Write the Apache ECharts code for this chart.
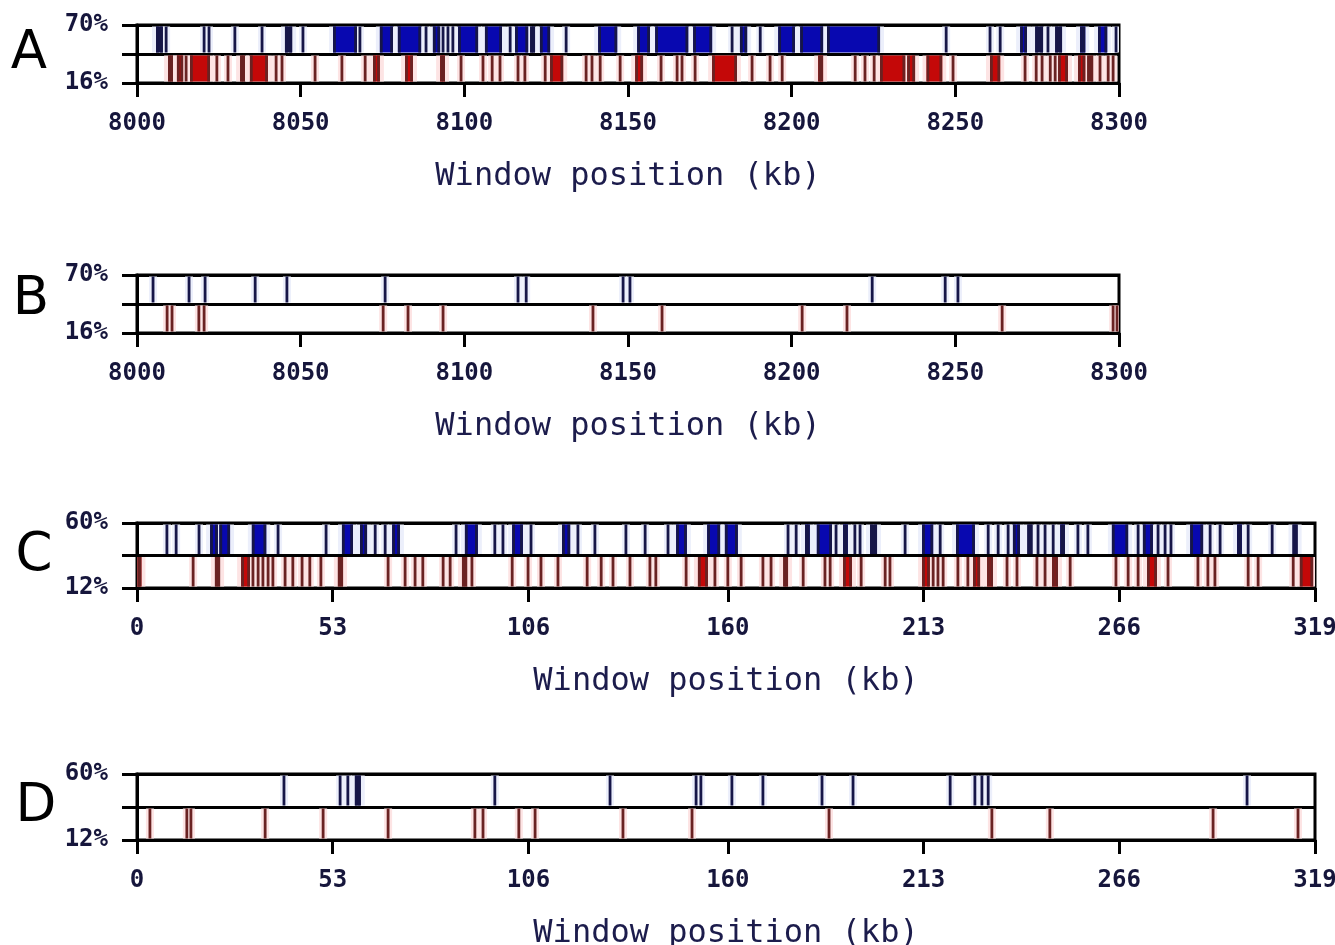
<!DOCTYPE html>
<html>
<head>
<meta charset="utf-8">
<script src="https://cdn.jsdelivr.net/npm/echarts@6/dist/echarts.min.js"></script>
<style>
html, body { margin: 0; padding: 0; background: #fff; }
#main { width: 1335px; height: 945px; }
</style>
</head>
<body>
<div id="main"></div>
<script>
// hit windows, kb. a plain number is a single window (thin line),
// [start, end, level] is a run of windows: level 0 pale, 1 strong, 2 dark
var aBlue = [[8005.8, 8007.9, 2], 8008.9, 8020.5, 8022.0, 8029.9, 8038.2, [8045.2, 8047.4, 2], 8050.7,
  [8059.9, 8067.2, 1], 8068.1, [8074.2, 8078.2, 1], [8079.7, 8086.8, 1], 8088.3, [8090.4, 8092.6, 1],
  8093.5, 8095.0, 8096.5, [8098.1, 8104.2, 1], [8106.3, 8111.5, 1], 8114.0, [8115.5, 8119.5, 1],
  [8120.1, 8121.6, 2], [8123.1, 8126.2, 1], 8131.1, [8140.9, 8146.7, 1], [8152.8, 8156.7, 1],
  [8158.3, 8168.4, 1], [8169.9, 8175.7, 1], 8181.8, [8184.2, 8186.4, 1], 8190.4, [8195.9, 8201.0, 1],
  [8202.6, 8209.6, 1], [8210.8, 8227.0, 1], 8247.2, 8260.6, 8263.7, [8269.8, 8271.9, 1],
  [8274.4, 8276.8, 2], 8278.3, [8280.5, 8282.6, 2], [8288.1, 8289.7, 1], [8293.6, 8296.4, 1], 8299.1];
var aRed = [[8009.5, 8011.0, 2], [8012.2, 8014.1, 1], 8015.0, [8016.2, 8022.3, 1], 8024.4, 8027.8,
  [8031.5, 8033.0, 2], [8034.5, 8040.0, 1], 8042.5, 8044.3, 8054.4, 8062.6, 8069.7, [8072.1, 8074.2, 1],
  [8081.9, 8084.3, 1], [8092.6, 8094.1, 1], 8099.0, 8105.7, 8108.5, 8110.9, 8116.4, 8118.5, 8124.7,
  [8126.2, 8130.2, 1], 8137.2, 8139.0, 8141.5, 8147.6, [8152.2, 8154.6, 1], 8160.1, 8165.0, 8166.5,
  8170.5, [8175.7, 8183.3, 1], 8187.9, 8193.4, 8197.1, [8208.1, 8209.6, 1], 8219.4, 8222.4, 8225.2,
  [8227.0, 8234.7, 1], [8235.3, 8237.7, 1], [8241.2, 8246.0, 1], 8249.3, [8260.6, 8263.7, 1], 8271.3,
  8274.7, 8276.5, 8279.0, 8280.5, [8281.4, 8284.4, 1], [8287.5, 8289.7, 1], [8290.3, 8292.1, 2],
  8294.2, 8296.7, 8298.2];

var bBlue = [8004.9, 8015.9, 8020.8, 8036.1, 8045.8, 8075.8, 8116.4, 8118.9, 8148.5, 8150.6,
  8224.6, 8246.9, 8250.8];
var bRed = [8009.2, 8010.7, 8018.9, 8020.5, 8075.2, 8082.8, 8093.5, 8139.3, 8160.4, 8203.2,
  8216.9, 8264.3, 8298.2, 8299.4];

var cBlue = [8.1, 10.6, 16.8, [19.8, 21.9, 1], [22.3, 25.2, 1], [31.1, 35.0, 1], 38.2, 51.2,
  [55.5, 58.5, 1], [60.4, 62.3, 1], 64.5, 67.2, [69.1, 71.2, 1], 86.4, [88.8, 92.3, 1], 96.9, 99.1,
  [101.6, 104.5, 1], 106.7, [115.1, 117.3, 1], 119.4, 124.0, 132.4, 137.6, 143.8, [146.0, 148.9, 1],
  [154.4, 157.9, 1], [159.2, 162.7, 1], 176.3, 178.5, [180.9, 182.2, 1], [184.1, 188.2, 1], 189.3,
  [191.2, 192.5, 1], 194.4, 195.8, [198.5, 200.4, 2], 208.0, [212.6, 215.6, 1], 217.5,
  [221.8, 226.9, 1], 230.5, 233.2, 235.9, [237.2, 239.1, 1], [241.1, 242.5, 2], 244.0, 245.9, 248.1,
  [250.0, 251.3, 1], 254.8, 257.5, [264.0, 268.4, 1], 271.1, [272.4, 275.1, 1], 276.5, 278.4, 280.0,
  [285.2, 288.7, 1], 290.6, 293.3, [297.9, 299.2, 1], 300.9, 307.4, [312.9, 314.3, 2]];
var cRed = [[0.1, 1.2, 1], 15.2, [21.1, 22.5, 2], [28.2, 30.6, 1], 31.4, 32.8, 34.1, 35.5, 36.8,
  40.1, 42.2, 44.7, 46.8, 49.8, [54.4, 55.8, 2], 68.0, 72.6, 75.3, 77.4, 82.9, 84.8, [88.0, 89.4, 2],
  90.7, 101.6, 105.9, 109.4, 114.0, 121.9, 125.7, 128.9, 133.5, 138.9, 140.5, 148.7, [151.9, 154.6, 1],
  156.5, 160.0, 163.6, 169.5, 171.7, [175.0, 176.3, 2], 180.4, 186.3, 187.7, [191.2, 193.6, 1], 196.1,
  202.6, 203.9, [212.6, 214.7, 1], 215.6, 216.9, 218.3, 222.3, 225.0, [226.4, 228.3, 1],
  [230.2, 231.8, 1], 235.6, 238.3, 243.7, 245.9, [247.8, 249.4, 1], 252.7, 265.1, 268.4, 271.1,
  [273.5, 276.2, 1], 279.2, 287.3, 290.0, 291.9, 300.9, 303.6, 313.1, [314.9, 318.5, 1]];

var dBlue = [39.8, 55.0, 57.1, [59.0, 60.6, 2], 96.9, 128.1, 151.4, 152.7, 161.1, 169.5, 185.5,
  193.9, 220.2, 226.9, 228.8, 230.5, 300.6];
var dRed = [3.5, 13.5, 14.6, 34.7, 50.4, 68.0, 91.5, 93.7, 103.4, 107.8, 131.6, 150.3, 187.4,
  231.5, 247.2, 291.4, 314.4];

var ticksAB = [8000, 8050, 8100, 8150, 8200, 8250, 8300];
var ticksCD = [0, 53, 106, 160, 213, 266, 319];
var yLabelsAB = ['16%', '', '70%'];
var yLabelsCD = ['12%', '', '60%'];
var panelNames = ['A', 'B', 'C', 'D'];
var axisTitle = 'Window position (kb)';

var BLUE = { halo: '#eceffb', line: '#161648', fill: ['#dde2f6', '#0808b0', '#161648'] };
var RED = { halo: '#fde4e4', line: '#6a2222', fill: ['#fbd6d6', '#c40808', '#6a2222'] };

var panels = [
  { top: 25, height: 58, width: 982, min: 8000, max: 8300, ticks: ticksAB, yl: yLabelsAB, blue: aBlue, red: aRed, lx: 29, ly: 54 },
  { top: 275, height: 58, width: 982, min: 8000, max: 8300, ticks: ticksAB, yl: yLabelsAB, blue: bBlue, red: bRed, lx: 31, ly: 300 },
  { top: 523, height: 65, width: 1178, min: 0, max: 319, ticks: ticksCD, yl: yLabelsCD, blue: cBlue, red: cRed, lx: 34, ly: 556 },
  { top: 774, height: 66, width: 1178, min: 0, max: 319, ticks: ticksCD, yl: yLabelsCD, blue: dBlue, red: dRed, lx: 36, ly: 807 }
];

function toItems(list) {
  return list.map(function (v) { return typeof v === 'number' ? [v, v, 2] : v; });
}

function strip(row, col) {
  return function (params, api) {
    var s = api.value(0), e = api.value(1), lvl = api.value(2);
    var top = api.coord([s, row + 1])[1] + 1.5;
    var bot = api.coord([s, row])[1] - 1.5;
    var x0 = api.coord([s, row])[0];
    var x1 = api.coord([e, row])[0];
    var h = bot - top;
    var lw = 2.8;
    var kids = [{
      type: 'rect', z2: 1,
      shape: { x: x0 - 4, y: top, width: x1 - x0 + 8, height: h },
      style: { fill: col.halo }
    }];
    if (x1 - x0 < 1) {
      kids.push({ type: 'rect', z2: 5, shape: { x: x0 - lw / 2, y: top, width: lw, height: h }, style: { fill: col.line } });
    } else {
      kids.push({ type: 'rect', z2: 3, shape: { x: x0, y: top, width: x1 - x0, height: h }, style: { fill: col.fill[lvl] } });
      kids.push({ type: 'rect', z2: 5, shape: { x: x0, y: top, width: lw, height: h }, style: { fill: col.line } });
      kids.push({ type: 'rect', z2: 5, shape: { x: x1 - lw, y: top, width: lw, height: h }, style: { fill: col.line } });
    }
    return { type: 'group', children: kids };
  };
}

var tickFont = { fontFamily: 'DejaVu Sans Mono', fontSize: 24, fontWeight: 'bold', color: '#16163c' };

var grids = [], xAxes = [], yAxes = [], series = [], graphics = [];
panels.forEach(function (p, i) {
  grids.push({
    left: 137, top: p.top, width: p.width, height: p.height,
    outerBoundsMode: 'none',
    show: true, borderColor: '#000', borderWidth: 3, backgroundColor: '#fff'
  });
  xAxes.push({
    type: 'value', gridIndex: i, min: p.min, max: p.max,
    name: axisTitle, nameLocation: 'middle', nameGap: 78,
    nameTextStyle: { fontFamily: 'DejaVu Sans Mono', fontSize: 32, color: '#1c1c4c' },
    axisLine: { show: true, onZero: false, lineStyle: { color: '#000', width: 3 } },
    axisTick: { show: true, length: 14, customValues: p.ticks, lineStyle: { color: '#000', width: 3 } },
    axisLabel: Object.assign({
      margin: 29, customValues: p.ticks, hideOverlap: false,
      formatter: function (v) { return String(v); }
    }, tickFont),
    splitLine: { show: false }
  });
  yAxes.push({
    type: 'value', gridIndex: i, min: 0, max: 2, interval: 1,
    axisLine: { show: true, lineStyle: { color: '#000', width: 3 } },
    axisTick: { show: true, length: 15, lineStyle: { color: '#000', width: 3 } },
    axisLabel: Object.assign({
      margin: 29,
      formatter: (function (yl) { return function (v) { return yl[v] || ''; }; })(p.yl)
    }, tickFont),
    splitLine: { show: true, lineStyle: { color: '#000', width: 3 } }
  });
  series.push({
    type: 'custom', xAxisIndex: i, yAxisIndex: i, clip: true, silent: true,
    encode: { x: [0, 1], y: 2 }, renderItem: strip(1, BLUE), data: toItems(p.blue)
  });
  series.push({
    type: 'custom', xAxisIndex: i, yAxisIndex: i, clip: true, silent: true,
    encode: { x: [0, 1], y: 2 }, renderItem: strip(0, RED), data: toItems(p.red)
  });
  graphics.push({
    type: 'text', x: p.lx, y: p.ly,
    style: { text: panelNames[i], font: '53px "DejaVu Sans"', fill: '#000', align: 'center', verticalAlign: 'middle' }
  });
});

var myChart = echarts.init(document.getElementById('main'));
myChart.setOption({
  animation: false,
  backgroundColor: '#fff',
  grid: grids,
  xAxis: xAxes,
  yAxis: yAxes,
  series: series,
  graphic: graphics
});
</script>
</body>
</html>
